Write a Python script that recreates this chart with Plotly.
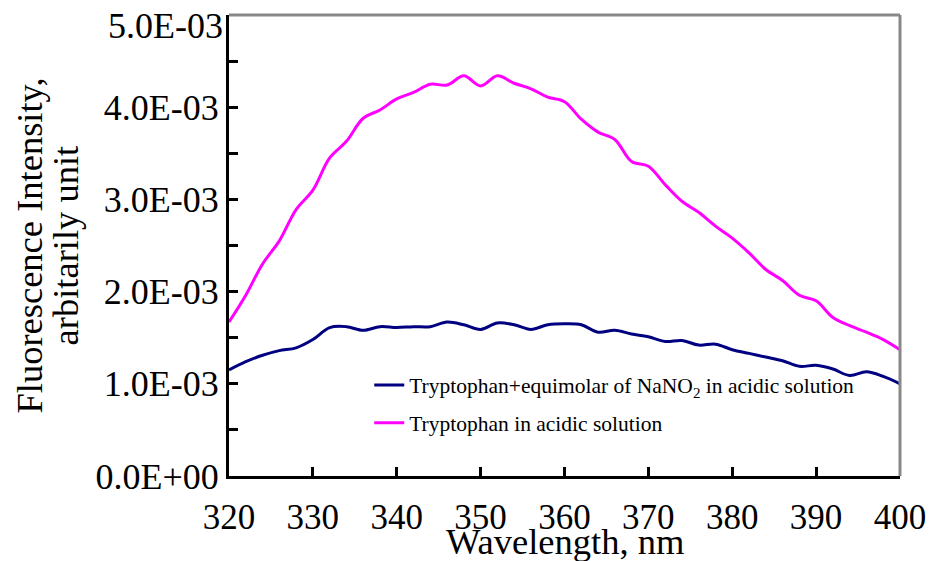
import plotly.graph_objects as go

wavelength = [320, 322, 324, 326, 328, 330, 332, 334, 336, 338, 340, 342, 344, 346, 348, 350,
              352, 354, 356, 358, 360, 362, 364, 366, 368, 370, 372, 374, 376, 378, 380, 382,
              384, 386, 388, 390, 392, 394, 396, 398, 400]

trp_acid = [1.67, 1.96, 2.30, 2.55, 2.89, 3.10, 3.45, 3.63, 3.88, 3.97, 4.09, 4.16, 4.25, 4.24,
            4.34, 4.23, 4.34, 4.26, 4.20, 4.11, 4.06, 3.87, 3.73, 3.65, 3.41, 3.36, 3.16, 2.98,
            2.86, 2.71, 2.58, 2.42, 2.24, 2.12, 1.96, 1.90, 1.72, 1.63, 1.56, 1.48, 1.37]
trp_acid = [v * 1e-3 for v in trp_acid]

trp_nano2 = [1.15, 1.24, 1.31, 1.36, 1.39, 1.48, 1.61, 1.62, 1.58, 1.62, 1.61, 1.62, 1.62, 1.67,
             1.64, 1.59, 1.66, 1.64, 1.59, 1.64, 1.65, 1.64, 1.56, 1.58, 1.54, 1.51, 1.46, 1.47,
             1.42, 1.43, 1.37, 1.33, 1.29, 1.25, 1.19, 1.20, 1.16, 1.09, 1.13, 1.08, 1.00]
trp_nano2 = [v * 1e-3 for v in trp_nano2]

y_tickvals = [0, 0.001, 0.002, 0.003, 0.004, 0.005]
y_ticktext = ["0.0E+00", "1.0E-03", "2.0E-03", "3.0E-03", "4.0E-03", "5.0E-03"]
y_minorvals = [0.0005, 0.0015, 0.0025, 0.0035, 0.0045]
x_tickvals = [320, 330, 340, 350, 360, 370, 380, 390, 400]

series_names = ["Tryptophan+equimolar of NaNO<sub>2</sub> in acidic solution",
                "Tryptophan in acidic solution"]

FONT = "Liberation Serif"

fig = go.Figure()
fig.add_trace(go.Scatter(x=wavelength, y=trp_nano2, mode="lines", name=series_names[0],
                         line=dict(color="#000080", width=3, shape="spline"), legendgroup="a"))
fig.add_trace(go.Scatter(x=wavelength, y=trp_acid, mode="lines", name=series_names[1],
                         line=dict(color="#FF00FF", width=3, shape="spline"), legendgroup="b"))

# top label is drawn shifted down inside the page (as in the reference), others on the axis
axis_ticktext = y_ticktext[:-1] + [""]

fig.update_layout(
    width=930, height=561,
    margin=dict(l=229, r=30, t=15, b=85, autoexpand=False),
    paper_bgcolor="white", plot_bgcolor="white",
    font=dict(family=FONT, color="black"),
    showlegend=True,
    legend=dict(x=0.209, y=0.242, xanchor="left", yanchor="top",
                bgcolor="rgba(0,0,0,0)", font=dict(family=FONT, size=21.5, color="black"),
                tracegroupgap=7, itemwidth=30),
    xaxis=dict(range=[320, 400], tickvals=x_tickvals, ticks="inside", ticklen=9, tickwidth=3,
               tickcolor="black", showline=True, linecolor="black", linewidth=3,
               showgrid=False, zeroline=False, tickfont=dict(family=FONT, size=35),
               ticklabelstandoff=8, automargin=False),
    yaxis=dict(range=[0, 0.0050001], tickvals=y_tickvals, ticktext=axis_ticktext, ticks="inside",
               ticklen=9, tickwidth=3, tickcolor="black", showline=True, linecolor="black",
               linewidth=3, showgrid=False, zeroline=False, automargin=False,
               tickfont=dict(family=FONT, size=36),
               minor=dict(tickvals=y_minorvals, ticks="inside",
                          ticklen=9, tickwidth=3, tickcolor="black", showgrid=False)),
    shapes=[
        dict(type="line", xref="paper", yref="paper", x0=0, x1=1, y0=1, y1=1,
             line=dict(color="#888888", width=3)),
        dict(type="line", xref="paper", yref="paper", x0=1, x1=1, y0=0, y1=1,
             line=dict(color="#888888", width=3)),
    ],
    annotations=[
        dict(text=y_ticktext[-1], xref="paper", yref="y", x=0, y=y_tickvals[-1],
             xanchor="right", yanchor="middle", yshift=-11, xshift=-4, showarrow=False,
             font=dict(family=FONT, size=36)),
        dict(text="Fluorescence Intensity,", textangle=-90, xref="paper", yref="paper",
             x=-0.298, y=0.5, xanchor="center", yanchor="middle", showarrow=False,
             font=dict(family=FONT, size=36.5)),
        dict(text="arbitarily unit", textangle=-90, xref="paper", yref="paper",
             x=-0.243, y=0.5, xanchor="center", yanchor="middle", showarrow=False,
             font=dict(family=FONT, size=36.5)),
        dict(text="Wavelength, nm", xref="paper", yref="paper",
             x=0.5, y=-0.143, xanchor="center", yanchor="middle", showarrow=False,
             font=dict(family=FONT, size=36.5)),
    ],
)

fig.write_html("out.html")
